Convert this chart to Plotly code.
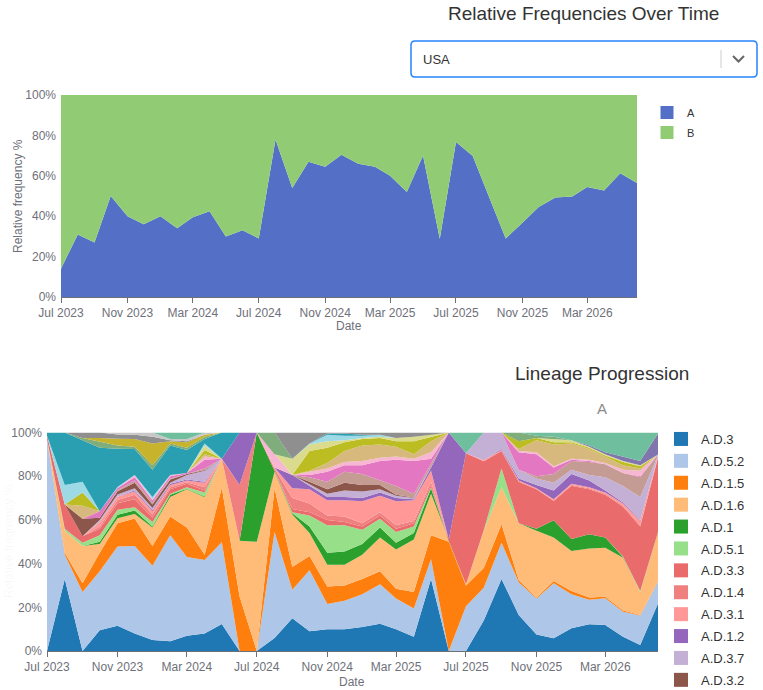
import pandas as pd
import plotly.graph_objects as go

W, H = 763, 690

months = pd.date_range("2023-07-01", "2026-06-01", freq="MS")

# top chart: A vs B share per month (%)
share_a = [14, 31, 27, 50, 40, 36, 40, 34, 39.5, 42.5, 30, 33, 29, 78, 54, 67, 64.5, 70.4,
           66, 64.5, 60, 52, 70, 28.8, 76.7, 69.8, 49, 29, 36.7, 44.5, 49.3, 49.8, 54.4, 52.7, 61.3, 56.4]
share_b = [86, 69, 73, 50, 60, 64, 60, 66, 60.5, 57.5, 70, 67, 71, 22, 46, 33, 35.5, 29.6,
           34, 35.5, 40, 48, 30, 71.2, 23.3, 30.2, 51, 71, 63.3, 55.5, 50.7, 50.2, 45.6, 47.3, 38.7, 43.6]

# bottom chart: lineage shares within A (%), stack order bottom -> top
ad_3 = [0, 33, 0, 9.5, 11.5, 8, 5, 4.5, 7, 8, 12.3, 0, 0, 6, 15, 9, 10, 10, 11, 12.5, 10, 6.5,
        33, 0, 0, 14, 33, 16.5, 7.5, 5.8, 10.4, 12.2, 11.9, 6.5, 2.7, 21.7]
ad_5_2 = [97, 11, 27, 27, 36.3, 40, 34, 48.5, 36, 33.7, 37.5, 0, 0, 48.5, 13, 28, 11.5, 13, 15, 18,
          14, 13, 9, 0, 20.5, 15, 16.5, 15, 16.5, 25.2, 15.6, 11.2, 12.2, 11.5, 13.5, 10.1]
ad_1_5 = [0, 1, 4, 8.5, 10.7, 12.6, 9, 8.5, 13.5, 2.3, 25, 25, 0, 20, 10.5, 6.5, 8, 7, 7, 6, 4.5,
          7.5, 11, 50, 9.5, 9, 8.5, 1, 0.5, 1, 1.5, 1.1, 0.7, 0.5, 0.3, 0.2]
ad_1_6 = [0, 10, 17, 4, 2.3, 2.1, 8.5, 9, 17.5, 26.4, 13, 25.5, 50, 7.5, 24, 10.5, 10, 9.5, 11,
          15.5, 18, 24, 19, 0.5, 0.5, 17, 17, 26, 30.5, 20, 18.3, 22.4, 22.5, 24.2, 10.5, 22.2]
ad_1 = [0, 0, 0, 1, 1.5, 1.6, 0.5, 1, 0.3, 0.3, 0, 0, 50, 0.5, 0.5, 3, 5.5, 6, 5, 4.5, 3, 3, 2.5,
        0, 0, 0, 0, 0, 1, 7.8, 5.5, 6.5, 4.6, 0.3, 0, 0.3]
ad_5_1 = [0, 1, 1.5, 3, 2.3, 1.5, 2, 0.5, 0.7, 1.8, 0, 0, 0, 0, 0.5, 5, 12.5, 12, 6.5, 4, 5, 3,
          0.5, 0, 0, 0.3, 8.5, 0, 0, 0, 0, 0, 0, 0.3, 0.5, 0]
ad_3_3 = [1.5, 11, 3, 3, 3, 3.7, 2, 2, 1.5, 1, 0, 0, 0, 0, 1.5, 1.5, 2.5, 1.5, 1.5, 1.5, 1.5, 1.5,
          1, 0.5, 60, 31.5, 8, 19, 18, 8.9, 24.3, 20.6, 19.6, 22.7, 29.5, 34]
ad_1_4 = [0, 0, 0, 1, 1.5, 2, 1.5, 1, 0.7, 1.5, 0, 25.5, 0, 1, 5, 4, 2, 2.5, 1.5, 1.5, 1.5, 1,
          1.5, 0, 0, 0, 0, 0, 0, 0.3, 0.4, 0.5, 0.5, 0.5, 0.5, 0.3]
ad_3_1 = [0, 0, 0, 2, 1.5, 1.5, 1.5, 1, 0.8, 2, 0.2, 0, 0, 0.5, 4.5, 6.5, 7, 7.5, 10, 7.5, 11,
          9.5, 5, 0, 0, 0.5, 0.5, 0.5, 0.5, 0.5, 0.5, 0.5, 0.5, 1, 2, 0.3]
ad_1_2 = [0, 0, 0, 0, 0, 0.5, 0.5, 0.5, 0.5, 0.5, 0, 24, 0, 0, 6, 1.5, 1.5, 1.5, 1.5, 1.5, 1.5,
          0.5, 1.5, 49, 0, 0, 0.5, 1, 1.5, 4, 4.5, 3, 1, 0.5, 0.3, 0]
ad_3_7 = [0, 0, 0, 1, 1, 1, 1, 0.5, 2, 5, 0, 0, 0, 0, 0, 1, 1.5, 3, 3, 1.5, 1, 0.5, 0.5, 0, 0,
          12.7, 7.5, 4, 3, 3.5, 2, 2.5, 6, 7.5, 10.7, 0.5]
ad_3_2 = [0, 0, 8, 1, 1.5, 2.5, 1.5, 1.5, 0.5, 0.3, 0, 0, 0, 0, 0, 1, 2, 3.5, 3, 2, 0.5, 0.3, 0,
          0, 0, 0, 0, 0, 0, 0, 0, 0, 0, 0, 0, 0]
ad_3_4 = [0, 0, 0, 0, 0.5, 1, 1, 0.5, 0, 0.7, 0, 0, 0, 0, 0, 2, 3.5, 5, 5, 2, 4, 1.5, 1.5, 0, 0,
          0, 0, 0, 1, 4, 4, 6, 6, 6, 9, 0.3]
ad_1_3 = [0, 0, 0, 3, 1, 1.5, 1, 1, 0.5, 4, 0, 0, 0, 0, 0, 1, 4.5, 3, 4, 9, 12, 15.2, 2, 0, 0, 0,
          0, 8, 10, 3, 0.5, 0.5, 0, 0, 0.5, 0]
ad_5_3 = [0, 0, 0, 0, 0, 1, 0.5, 0.5, 0, 1.5, 0, 0, 0, 6, 0, 1.5, 1.5, 1.5, 2, 1.5, 1.5, 1, 3, 0,
          0, 0, 0, 0.5, 1, 0.5, 0.5, 0.5, 0.5, 1.5, 2.5, 0]
ad_3_5 = [0, 0, 6, 0, 0, 0, 0, 0, 0, 1, 0, 0, 0, 0, 0, 0.5, 2.5, 5, 7, 6, 4.5, 2, 5, 0, 0, 0, 0,
          1, 5.5, 10, 7, 5, 3, 2, 1, 0]
ad_2 = [0, 0, 6, 0, 0, 0, 0, 0, 0, 2, 0, 0, 0, 0, 0, 9, 7, 4, 3, 3, 2.5, 6, 2, 0, 0, 0, 0, 3.5,
        1, 1, 0.5, 0.5, 0.5, 1.5, 1, 0]
ad_2_1 = [0, 0, 0, 0, 0, 0, 0, 0, 0, 2, 0, 0, 0, 0, 7.5, 3, 3, 1, 0.5, 0.5, 1.5, 2, 1, 0, 0, 0, 0,
          0, 0, 1.5, 1, 0.5, 0.5, 0.5, 0.5, 0]
ad_4 = [0, 9, 5, 0, 0.5, 0, 1, 0, 0, 1, 0, 0, 0, 0, 0, 0.5, 3, 2, 1, 1, 0, 0, 0, 0, 0, 0, 0, 0,
        0, 0, 0, 0, 0, 0, 0, 0]
ad_1_1 = [1.5, 24, 19, 29, 17.5, 12, 12.5, 13.5, 10.5, 2, 12, 0, 0, 0, 0, 0, 0.5, 1, 0.5, 0, 0, 0,
          0, 0, 0, 0, 0, 0, 0, 0, 0, 0, 0, 0, 0, 0]
ad_5 = [0, 0, 1, 3, 1.5, 1, 2, 1, 1, 1, 0, 0, 0, 10, 0, 0, 0, 0, 0, 0, 0, 0, 0, 0, 0, 0, 0, 4, 1,
        1, 0, 0, 0, 0, 0, 0]
ad_4_1 = [0, 0, 0, 1.5, 3, 3.5, 10, 1, 2.5, 1, 0, 0, 0, 0, 0, 0, 0, 0, 0, 0, 0, 0, 0, 0, 0, 0, 0,
          0, 0, 0, 0, 0, 0, 0, 0, 0]
ad_3_6 = [0, 0, 2.5, 2.5, 2, 2, 3, 0.5, 0.5, 0, 0, 0, 0, 0, 12, 5, 0.5, 0.5, 1, 1, 2.5, 2, 1, 0,
          0, 0, 0, 0, 0, 0, 0, 0, 0, 0, 0, 0]
ad_1_7 = [0, 0, 0, 0, 0.9, 1, 2, 0.5, 1, 1, 0, 0, 0, 0, 0, 0, 0, 0, 0, 0, 0, 0, 0, 0, 0, 0, 0, 0,
          0, 0, 0, 0, 0, 0, 0, 0]
ad_3_9 = [0, 0, 0, 0, 0, 0, 0, 0, 0, 0, 0, 0, 0, 0, 0, 0, 0, 0, 0, 0, 0, 0, 0, 0, 0, 0, 0, 0, 0,
          0, 0, 0.5, 1, 2, 2, 9.6]
ad_3_8 = [0, 0, 0, 0, 0, 0, 0, 3, 3, 0, 0, 0, 0, 0, 0, 0, 0, 0, 0, 0, 0, 0, 0, 0, 9.5, 0, 0, 0,
          1.5, 2, 3.5, 6, 9, 11, 13, 0.5]

lineages = [
    ("A.D.3", ad_3), ("A.D.5.2", ad_5_2), ("A.D.1.5", ad_1_5), ("A.D.1.6", ad_1_6),
    ("A.D.1", ad_1), ("A.D.5.1", ad_5_1), ("A.D.3.3", ad_3_3), ("A.D.1.4", ad_1_4),
    ("A.D.3.1", ad_3_1), ("A.D.1.2", ad_1_2), ("A.D.3.7", ad_3_7), ("A.D.3.2", ad_3_2),
    ("A.D.3.4", ad_3_4), ("A.D.1.3", ad_1_3), ("A.D.5.3", ad_5_3), ("A.D.3.5", ad_3_5),
    ("A.D.2", ad_2), ("A.D.2.1", ad_2_1), ("A.D.4", ad_4), ("A.D.1.1", ad_1_1),
    ("A.D.5", ad_5), ("A.D.4.1", ad_4_1), ("A.D.3.6", ad_3_6), ("A.D.1.7", ad_1_7),
    ("A.D.3.9", ad_3_9), ("A.D.3.8", ad_3_8),
]
colors = ["#1f77b4", "#aec7e8", "#ff7f0e", "#ffbb78", "#2ca02c", "#98df8a", "#ea6b6b", "#f08080",
          "#ff9896", "#9467bd", "#c5b0d5", "#8c564b", "#c49c94", "#e377c2", "#f7b6d2", "#d8b97d",
          "#bcbd22", "#dbdb8d", "#9edae5", "#2a9fb2", "#7fad7c", "#c8b32c", "#8f8f8f", "#c7c7c7",
          "#8175ae", "#6fbe9d"]
LEGEND_ROWS = 12  # only the first rows fit in the visible legend

FONT = "Liberation Sans, Arial, sans-serif"
AXIS_GREY = "#6e7079"


def px(x):
    return x / W


def py(y):
    return 1 - y / H


fig = go.Figure()

# top: A / B
for name, vals, col in [("A", share_a, "#5470c6"), ("B", share_b, "#91cc75")]:
    fig.add_trace(go.Scatter(
        x=months, y=vals, name=name, stackgroup="top", groupnorm="percent",
        mode="lines", line=dict(width=0, color=col), fillcolor=col,
        showlegend=False, xaxis="x", yaxis="y"))
    fig.add_trace(go.Scatter(
        x=[None], y=[None], name=name, mode="markers", legend="legend",
        legendgroup=name, marker=dict(symbol="square", size=13, color=col),
        xaxis="x", yaxis="y"))

# bottom: lineages
for k, ((name, vals), col) in enumerate(zip(lineages, colors)):
    fig.add_trace(go.Scatter(
        x=months, y=vals, name=name, stackgroup="bot", groupnorm="percent",
        mode="lines", line=dict(width=0, color=col), fillcolor=col,
        showlegend=False, xaxis="x2", yaxis="y2"))
    if k < LEGEND_ROWS:
        fig.add_trace(go.Scatter(
            x=[None], y=[None], name=name, mode="markers", legend="legend2",
            legendgroup=name, marker=dict(symbol="square", size=14, color=col),
            xaxis="x2", yaxis="y2"))

xcommon = dict(
    type="date", range=["2023-07-01", "2026-06-01"], tick0="2023-07-01", dtick="M4",
    tickformat="%b %Y", showgrid=False, zeroline=False, showline=True, linecolor=AXIS_GREY,
    linewidth=1, ticks="outside", ticklen=5, tickcolor=AXIS_GREY, automargin=False,
    tickfont=dict(family=FONT, size=12, color=AXIS_GREY))
ycommon = dict(
    range=[0, 100], dtick=20, ticksuffix="%", showgrid=False, zeroline=False, showline=False,
    ticks="", automargin=False, ticklabelstandoff=4,
    tickfont=dict(family=FONT, size=12, color=AXIS_GREY))

fig.update_layout(
    width=W, height=H, template="plotly_white",
    margin=dict(l=0, r=0, t=0, b=0, autoexpand=False),
    paper_bgcolor="white", plot_bgcolor="white",
    font=dict(family=FONT, color="#333333"),
    hovermode=False,
    xaxis=dict(domain=[px(61), px(637)], anchor="y", **xcommon),
    yaxis=dict(domain=[py(297), py(95)], anchor="x", **ycommon),
    xaxis2=dict(domain=[px(47), px(658)], anchor="y2", **xcommon),
    yaxis2=dict(domain=[py(651), py(432.5)], anchor="x2", **ycommon),
    legend=dict(x=px(647), y=py(98), xanchor="left", yanchor="top", tracegroupgap=1,
                font=dict(family=FONT, size=11, color="#333333"), bgcolor="rgba(0,0,0,0)"),
    legend2=dict(x=px(661), y=py(424), xanchor="left", yanchor="top", tracegroupgap=2,
                 font=dict(family=FONT, size=13, color="#333333"), bgcolor="rgba(0,0,0,0)"),
)

ann = [
    dict(text="Relative Frequencies Over Time", x=px(583), y=py(14), size=19, color="#333333"),
    dict(text="Date", x=px(349), y=py(326), size=12, color=AXIS_GREY),
    dict(text="Lineage Progression", x=px(602), y=py(373), size=19, color="#333333"),
    dict(text="A", x=px(602), y=py(408), size=15, color="#8a8a8a"),
    dict(text="Date", x=px(352), y=py(682), size=12, color=AXIS_GREY),
]
for a in ann:
    fig.add_annotation(text=a["text"], x=a["x"], y=a["y"], xref="paper", yref="paper",
                       showarrow=False, xanchor="center", yanchor="middle",
                       font=dict(family=FONT, size=a["size"], color=a["color"]))

fig.add_annotation(text="Relative frequency %", x=px(18), y=py(196), xref="paper", yref="paper",
                   showarrow=False, textangle=-90, xanchor="center", yanchor="middle",
                   font=dict(family=FONT, size=12, color=AXIS_GREY))
fig.add_annotation(text="Relative frequency %", x=px(9), y=py(541), xref="paper", yref="paper",
                   showarrow=False, textangle=-90, xanchor="center", yanchor="middle",
                   font=dict(family=FONT, size=12, color="rgba(110,112,121,0.06)"))

# dropdown box (USA)
x0, x1, y0, y1, r = 411, 757, 41, 77, 4
box = (f"M{px(x0 + r)},{py(y0)} L{px(x1 - r)},{py(y0)} Q{px(x1)},{py(y0)} {px(x1)},{py(y0 + r)} "
       f"L{px(x1)},{py(y1 - r)} Q{px(x1)},{py(y1)} {px(x1 - r)},{py(y1)} "
       f"L{px(x0 + r)},{py(y1)} Q{px(x0)},{py(y1)} {px(x0)},{py(y1 - r)} "
       f"L{px(x0)},{py(y0 + r)} Q{px(x0)},{py(y0)} {px(x0 + r)},{py(y0)} Z")
fig.add_shape(type="path", path=box, xref="paper", yref="paper",
              line=dict(color="#2684ff", width=1.5), fillcolor="white")
fig.add_shape(type="line", x0=px(721), x1=px(721), y0=py(50), y1=py(68), xref="paper",
              yref="paper", line=dict(color="#cccccc", width=1))
fig.add_shape(type="path", xref="paper", yref="paper",
              path=f"M{px(733)},{py(56)} L{px(738.5)},{py(61.5)} L{px(744)},{py(56)}",
              line=dict(color="#666666", width=2))
fig.add_annotation(text="USA", x=px(421), y=py(59), xref="paper", yref="paper",
                   showarrow=False, xanchor="left", yanchor="middle",
                   font=dict(family=FONT, size=13, color="#333333"))

# page body margin would shift the figure by 8px; no modebar over the title
fig.write_html("out.html", config={"displayModeBar": False},
               post_script="document.body.style.margin='0';")
